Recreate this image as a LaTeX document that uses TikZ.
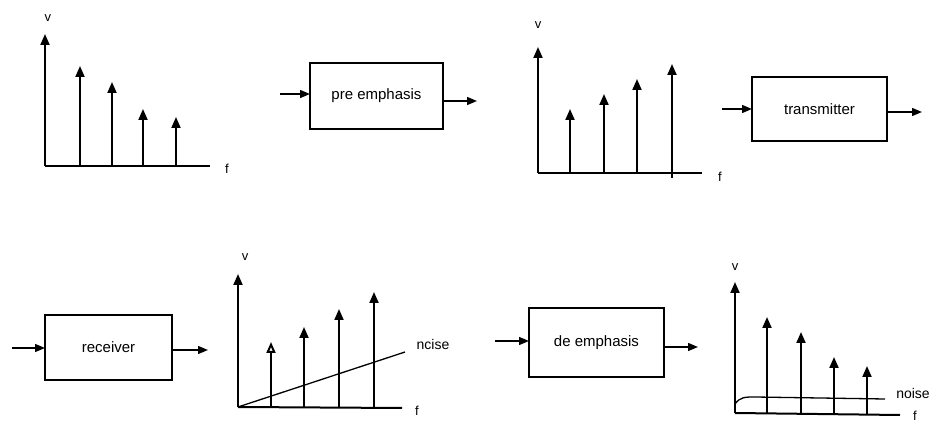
\documentclass[tikz,border=0pt]{standalone}
\usepackage{fontspec}
\setmainfont{Liberation Sans}
\usetikzlibrary{arrows.meta}
\tikzset{
  blk/.style={draw, line width=1.5pt, inner sep=0pt, outer sep=0pt, font=\fontsize{15}{17}\selectfont},
  axis/.style={line width=2pt},
  spike/.style={line width=2pt, -{Triangle[length=11pt,width=9pt]}},
  ospike/.style={line width=2pt, -{Triangle[open,length=11pt,width=9pt,fill=white]}},
  flow/.style={line width=1.4pt, -{Triangle[length=10pt,width=8pt]}},
  lbl/.style={font=\fontsize{13}{15}\selectfont, inner sep=0pt},
  nlbl/.style={font=\fontsize{14}{16}\selectfont, inner sep=0pt},
  noiseln/.style={line width=1.3pt}
}
\begin{document}
\begin{tikzpicture}[x=1pt,y=-1pt]
\useasboundingbox (0,0) rectangle (938,430);
% ---------- graph 1 ----------
\coordinate (o1) at (45,166);
\coordinate (x1) at (210,166);
\draw[axis] (o1) -- (x1);
\draw[spike] (o1) -- (45,34);
\node[lbl] (v1) at (48,18) {v};
\node[lbl] (f1) at (227,169) {f};
\draw[spike] (80,166) -- (80,66);
\draw[spike] (112,166) -- (112,82);
\draw[spike] (143,166) -- (143,109);
\draw[spike] (176,166) -- (176,117);
% ---------- pre emphasis ----------
\node[blk, minimum width=133pt, minimum height=66pt] (pre) at (376.5,96) {pre emphasis};
\coordinate (prein) at (280,94);
\coordinate (preout) at (477,101);
\draw[flow] (prein) -- (prein -| pre.west);
\draw[flow] (preout -| pre.east) -- (preout);
% ---------- graph 2 ----------
\coordinate (o2) at (538,173);
\coordinate (x2) at (702,173);
\draw[axis] (o2) -- (x2);
\draw[spike] (o2) -- (538,47);
\node[lbl] (v2) at (538,25) {v};
\node[lbl] (f2) at (720,177) {f};
\draw[spike] (570,173) -- (570,109);
\draw[spike] (604,173) -- (604,94);
\draw[spike] (637,173) -- (637,79);
\draw[spike] (672,178) -- (672,64);
% ---------- transmitter ----------
\node[blk, minimum width=135pt, minimum height=64pt] (tx) at (819.5,109) {transmitter};
\coordinate (txin) at (722,109);
\coordinate (txout) at (922,112);
\draw[flow] (txin) -- (txin -| tx.west);
\draw[flow] (txout -| tx.east) -- (txout);
% ---------- receiver ----------
\node[blk, minimum width=127pt, minimum height=65pt] (rx) at (108.5,347.5) {receiver};
\coordinate (rxin) at (12,348);
\coordinate (rxout) at (208,350);
\draw[flow] (rxin) -- (rxin -| rx.west);
\draw[flow] (rxout -| rx.east) -- (rxout);
% ---------- graph 3 ----------
\coordinate (o3) at (238,407);
\coordinate (x3) at (402,408);
\draw[axis] (o3) -- (x3);
\draw[spike] (o3) -- (238,274);
\node[lbl] (v3) at (245,257) {v};
\node[lbl] (f3) at (417,411) {f};
\draw[ospike] (271,407) -- (271,342);
\draw[spike] (304,407) -- (304,327);
\draw[spike] (339,407) -- (339,309);
\draw[spike] (374,407) -- (374,292);
\coordinate (n3) at (405,352);
\draw[noiseln] (o3) -- (n3);
\node[nlbl] (nz3) at (433,344) {ncise};
% ---------- de emphasis ----------
\node[blk, minimum width=135pt, minimum height=69pt] (de) at (596.5,342.5) {de emphasis};
\coordinate (dein) at (495,341);
\coordinate (deout) at (698,347);
\draw[flow] (dein) -- (dein -| de.west);
\draw[flow] (deout -| de.east) -- (deout);
% ---------- graph 4 ----------
\coordinate (o4) at (735,413);
\coordinate (x4) at (900,415);
\draw[axis] (o4) -- (x4);
\draw[spike] (o4) -- (735,282);
\node[lbl] (v4) at (735,267) {v};
\node[lbl] (f4) at (915,416) {f};
\draw[spike] (767,413) -- (767,317);
\draw[spike] (801,413) -- (801,332);
\draw[spike] (834,414) -- (834,357);
\draw[spike] (867,414) -- (867,366);
\coordinate (n4s) at (735,404);
\coordinate (n4e) at (885,399);
\draw[noiseln] (n4s) .. controls (740,397) and (745,397) .. (755,397) -- (n4e);
\node[nlbl] (nz4) at (913,393) {noise};
\end{tikzpicture}
\end{document}
